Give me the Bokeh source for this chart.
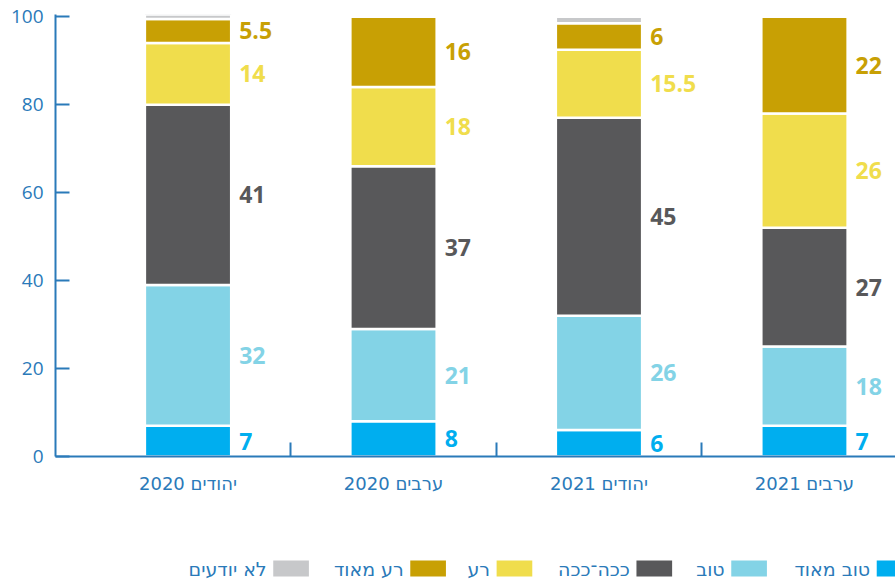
import numpy as np
from bokeh.plotting import figure
from bokeh.models import Range1d, FixedTicker, ColumnDataSource
from bokeh.layouts import column
from bokeh.core.properties import value
from bokeh.embed import file_html
from bokeh.resources import INLINE

# ---- data ----
categories = ["יהודים 2020", "ערבים 2020", "יהודים 2021", "ערבים 2021"]
series_names = ["טוב מאוד", "טוב", "ככה־ככה", "רע", "רע מאוד", "לא יודעים"]
very_good = [7, 8, 6, 7]
good = [32, 21, 26, 18]
so_so = [41, 37, 45, 27]
bad = [14, 18, 15.5, 26]
very_bad = [5.5, 16, 6, 22]
dont_know = [1, 0, 1.5, 0]
y_ticks = [0, 20, 40, 60, 80, 100]

# ---- style ----
colors = ["#00aeef", "#83d3e6", "#58585a", "#f0dd4c", "#c8a004", "#c7c8ca"]
axis_blue = "#2a7ab9"
FONT = "Open Sans"
HEB_FONT = "DejaVu Sans"
bar_width = 0.42

keys = ["vg", "g", "ss", "b", "vb", "dk"]
series = [very_good, good, so_so, bad, very_bad, dont_know]
xs = list(range(len(categories)))

data = {"x": xs}
for k, s in zip(keys, series):
    data[k] = s
source = ColumnDataSource(data)

p = figure(width=895, height=516,
           x_range=Range1d(-0.645, 3.443), y_range=Range1d(0, 100.5),
           output_backend="svg", toolbar_location=None,
           min_border_left=55, min_border_right=0, min_border_top=14,
           min_border_bottom=60, outline_line_color=None)

p.vbar_stack(keys, x="x", width=bar_width, fill_color=colors,
             line_color="white", line_width=2.5, source=source)

# value labels (segment centres)
arr = np.array(series[:5], dtype=float)
cum = np.cumsum(arr, axis=0)
lx, ly, lt, lc = [], [], [], []
for si in range(5):
    for ci in xs:
        v = arr[si, ci]
        if v > 0:
            lx.append(ci + bar_width / 2)
            ly.append(cum[si, ci] - v / 2)
            lt.append(f"{v:g}")
            lc.append(colors[si])
lsrc = ColumnDataSource(dict(x=lx, y=ly, text=lt, color=lc))
p.text(x="x", y="y", text="text", text_color="color", source=lsrc,
       x_offset=8, text_align="left", text_baseline="middle",
       text_font=value(FONT), text_font_style="bold", text_font_size="23px")

p.xgrid.visible = False
p.ygrid.visible = False

# y axis
ya = p.yaxis[0]
ya.ticker = FixedTicker(ticks=y_ticks, minor_ticks=[])
ya.axis_line_color = axis_blue
ya.axis_line_width = 2
ya.major_tick_line_color = axis_blue
ya.major_tick_line_width = 2
ya.major_tick_in = 14
ya.major_tick_out = 0
ya.minor_tick_line_color = None
ya.major_label_text_color = axis_blue
ya.major_label_text_font = FONT
ya.major_label_text_font_size = "19px"
ya.major_label_standoff = 12

# x axis
xa = p.xaxis[0]
xa.ticker = FixedTicker(ticks=xs, minor_ticks=[i + 0.5 for i in xs[:-1]])
xa.major_label_overrides = {i: c for i, c in zip(xs, categories)}
xa.axis_line_color = axis_blue
xa.axis_line_width = 2
xa.major_tick_line_color = None
xa.minor_tick_line_color = axis_blue
xa.minor_tick_line_width = 2
xa.minor_tick_in = 14
xa.minor_tick_out = 0
xa.major_label_text_color = axis_blue
xa.major_label_text_font = HEB_FONT
xa.major_label_text_font_size = "18px"
xa.major_label_standoff = 10

# ---- legend (right-to-left) ----
legend_square_left = [875, 720, 619, 470, 378, 232]
sq_w, sq_h, gap = 38, 16, 7
lg = figure(width=895, height=66, x_range=Range1d(0, 895), y_range=Range1d(0, 66),
            output_backend="svg", toolbar_location=None, min_border=0,
            x_axis_type=None, y_axis_type=None, outline_line_color=None)
lg.grid.visible = False
sl = np.array(legend_square_left, dtype=float)
lg.quad(left=sl, right=sl + sq_w, bottom=6, top=6 + sq_h, fill_color=colors, line_color=None)
lg.text(x=sl - gap, y=[6 + sq_h / 2] * len(sl), text=series_names,
        text_color=axis_blue, text_align="right", text_baseline="middle",
        text_font=value(HEB_FONT), text_font_size="19px")

layout = column(p, lg, spacing=0)
open("out.html", "w").write(file_html(layout, INLINE))
